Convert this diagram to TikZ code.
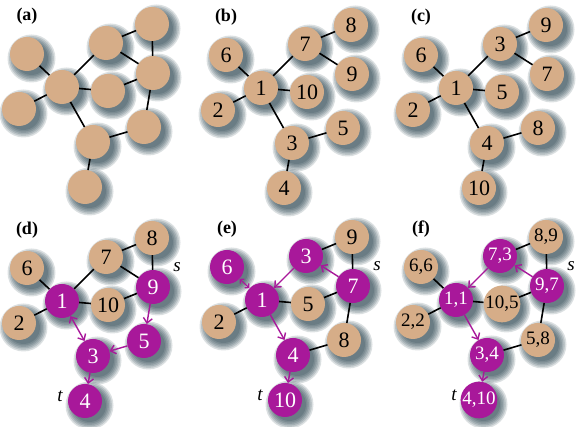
\documentclass[tikz,border=0pt]{standalone}
\usepackage{fontspec}
\setmainfont{Liberation Serif}
\usetikzlibrary{arrows.meta}
\definecolor{tanv}{RGB}{214,173,136}
\definecolor{magv}{RGB}{168,24,154}
\definecolor{shd}{RGB}{14,44,56}
\pgfdeclarelayer{shadowlayer}
\pgfsetlayers{shadowlayer,main}
\tikzset{
  vt/.style={circle, fill=tanv, minimum size=34pt, inner sep=0pt, font=\rmfamily\fontsize{22}{22}\selectfont, text=black},
  vm/.style={vt, fill=magv, text=white},
  vtf/.style={vt, font=\rmfamily\fontsize{19}{19}\selectfont},
  vmf/.style={vm, font=\rmfamily\fontsize{19}{19}\selectfont},
  edge/.style={line width=1.6pt, black},
  arr/.style={line width=1.4pt, magv, -{Straight Barb[length=5pt,width=9pt]}},
  darr/.style={line width=1.4pt, magv, {Straight Barb[length=5pt,width=9pt]}-{Straight Barb[length=5pt,width=9pt]}},
  plabel/.style={font=\rmfamily\fontsize{18}{18}\selectfont\bfseries},
  stlabel/.style={font=\rmfamily\fontsize{19}{19}\selectfont\itshape},
}
\newcommand{\vx}[4]{%
  \begin{pgfonlayer}{shadowlayer}
    \foreach \rr in {24,22.5,...,16}{\fill[shd,opacity=0.15] (#2) ++(4.5,4.5) circle (\rr pt);}
  \end{pgfonlayer}
  \node[#3] (#1) at (#2) {#4};}
\begin{document}
\begin{tikzpicture}[x=1pt,y=-1pt]
\useasboundingbox (0,0) rectangle (582,427);
% ---------------- (a)
\begin{scope}[shift={(62,87)}]
\node[plabel] (la) at (-35,-71) {(a)};
\vx{aTL}{-35,-33}{vt}{}
\vx{aH}{0,0}{vt}{}
\vx{aLB}{-43,22}{vt}{}
\vx{aTM}{44,-44}{vt}{}
\vx{aTR}{90,-63}{vt}{}
\vx{aR}{91,-14}{vt}{}
\vx{aC}{46,4}{vt}{}
\vx{aLR}{82,40}{vt}{}
\vx{aL}{31,55}{vt}{}
\vx{aB}{23,100}{vt}{}
\draw[edge] (aTL)--(aH) (aLB)--(aH) (aH)--(aTM) (aH)--(aC) (aH)--(aL)
  (aTM)--(aTR) (aTM)--(aR) (aTR)--(aR) (aR)--(aC) (aR)--(aLR) (aLR)--(aL) (aL)--(aB);
\end{scope}
% ---------------- (b)
\begin{scope}[shift={(261,88)}]
\node[plabel] (lb) at (-35,-71) {(b)};
\vx{bTL}{-35,-33}{vt}{6}
\vx{bH}{0,0}{vt}{1}
\vx{bLB}{-43,22}{vt}{2}
\vx{bTM}{44,-44}{vt}{7}
\vx{bTR}{90,-63}{vt}{8}
\vx{bR}{91,-14}{vt}{9}
\vx{bC}{46,4}{vt}{10}
\vx{bLR}{82,40}{vt}{5}
\vx{bL}{31,55}{vt}{3}
\vx{bB}{23,100}{vt}{4}
\draw[edge] (bTL)--(bH) (bLB)--(bH) (bH)--(bTM) (bH)--(bC) (bH)--(bL)
  (bTM)--(bTR) (bTM)--(bR) (bL)--(bLR) (bL)--(bB);
\end{scope}
% ---------------- (c)
\begin{scope}[shift={(456,88)}]
\node[plabel] (lc) at (-35,-71) {(c)};
\vx{cTL}{-35,-33}{vt}{6}
\vx{cH}{0,0}{vt}{1}
\vx{cLB}{-43,22}{vt}{2}
\vx{cTM}{44,-44}{vt}{3}
\vx{cTR}{90,-63}{vt}{9}
\vx{cR}{91,-14}{vt}{7}
\vx{cC}{46,4}{vt}{5}
\vx{cLR}{82,40}{vt}{8}
\vx{cL}{31,55}{vt}{4}
\vx{cB}{23,100}{vt}{10}
\draw[edge] (cTL)--(cH) (cLB)--(cH) (cH)--(cTM) (cH)--(cC) (cH)--(cL)
  (cTM)--(cTR) (cTM)--(cR) (cL)--(cLR) (cL)--(cB);
\end{scope}
% ---------------- (d)
\begin{scope}[shift={(62,301)}]
\node[plabel] (ld) at (-35,-71) {(d)};
\vx{dTL}{-35,-33}{vt}{6}
\vx{dH}{0,0}{vm}{1}
\vx{dLB}{-43,22}{vt}{2}
\vx{dTM}{44,-44}{vt}{7}
\vx{dTR}{90,-63}{vt}{8}
\vx{dR}{91,-14}{vm}{9}
\vx{dC}{46,4}{vt}{10}
\vx{dLR}{82,40}{vm}{5}
\vx{dL}{31,55}{vm}{3}
\vx{dB}{23,100}{vm}{4}
\node[stlabel] (ds) at (115,-34) {s};
\node[stlabel] (dt) at (-2,95) {t};
\draw[edge] (dTL)--(dH) (dLB)--(dH) (dH)--(dTM) (dH)--(dC)
  (dTM)--(dTR) (dTM)--(dR) (dTR)--(dR) (dR)--(dC);
\draw[arr] (dR)--(dLR);
\draw[arr] (dLR)--(dL);
\draw[darr] (dH)--(dL);
\draw[arr] (dL)--(dB);
\end{scope}
% ---------------- (e)
\begin{scope}[shift={(262,300)}]
\node[plabel] (le) at (-35,-71) {(e)};
\vx{eTL}{-35,-33}{vm}{6}
\vx{eH}{0,0}{vm}{1}
\vx{eLB}{-43,22}{vt}{2}
\vx{eTM}{44,-44}{vm}{3}
\vx{eTR}{90,-63}{vt}{9}
\vx{eR}{91,-14}{vm}{7}
\vx{eC}{46,4}{vt}{5}
\vx{eLR}{82,40}{vt}{8}
\vx{eL}{31,55}{vm}{4}
\vx{eB}{23,100}{vm}{10}
\node[stlabel] (es) at (115,-34) {s};
\node[stlabel] (et) at (-2,95) {t};
\draw[edge] (eLB)--(eH) (eH)--(eC) (eTM)--(eTR) (eTR)--(eR) (eR)--(eC)
  (eR)--(eLR) (eLR)--(eL);
\draw[arr] (eR)--(eTM);
\draw[arr] (eTM)--(eH);
\draw[line width=1.2pt, magv, {Straight Barb[length=3pt,width=6pt]}-{Straight Barb[length=3pt,width=6pt]}] (eH)--(eTL);
\draw[arr] (eH)--(eL);
\draw[arr] (eL)--(eB);
\end{scope}
% ---------------- (f)
\begin{scope}[shift={(456,300)}]
\node[plabel] (lf) at (-35,-71) {(f)};
\vx{fTL}{-35,-33}{vtf}{6,6}
\vx{fH}{0,0}{vmf}{1,1}
\vx{fLB}{-43,22}{vtf}{2,2}
\vx{fTM}{44,-44}{vmf}{7,3}
\vx{fTR}{90,-63}{vtf}{8,9}
\vx{fR}{91,-14}{vmf}{9,7}
\vx{fC}{46,4}{vtf}{10,5}
\vx{fLR}{82,40}{vtf}{5,8}
\vx{fL}{31,55}{vmf}{3,4}
\vx{fB}{23,100}{vmf}{4,10}
\node[stlabel] (fs) at (115,-34) {s};
\node[stlabel] (ft) at (-2,95) {t};
\draw[edge] (fTL)--(fH) (fLB)--(fH) (fH)--(fC) (fTM)--(fTR) (fTR)--(fR)
  (fR)--(fC) (fR)--(fLR) (fLR)--(fL);
\draw[arr] (fR)--(fTM);
\draw[arr] (fTM)--(fH);
\draw[arr] (fH)--(fL);
\draw[arr] (fL)--(fB);
\end{scope}
\end{tikzpicture}
\end{document}
